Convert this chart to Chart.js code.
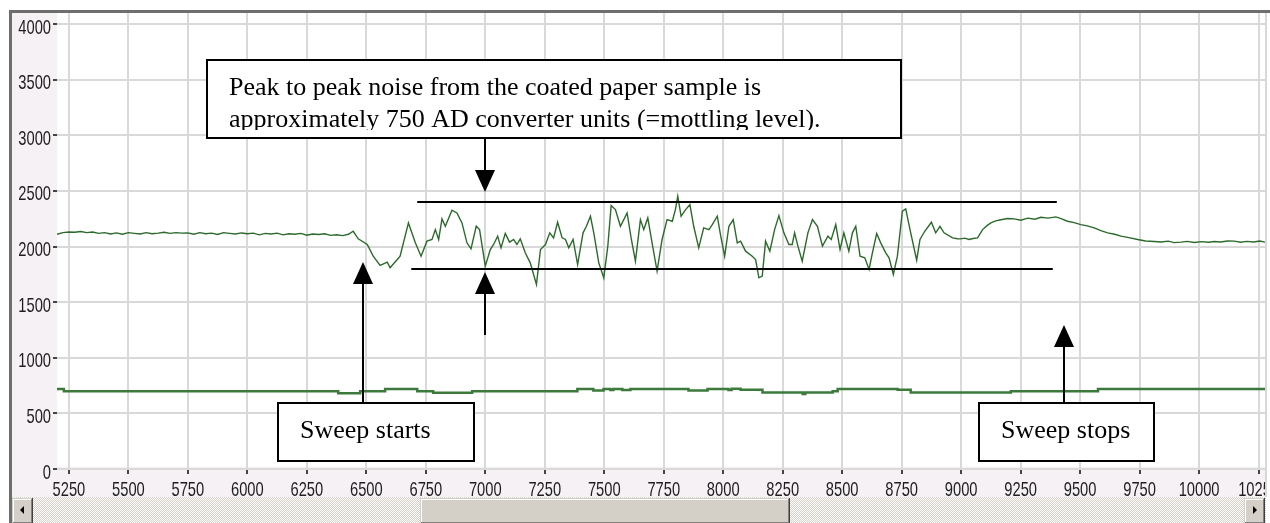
<!DOCTYPE html>
<html lang="en">
<head>
<meta charset="UTF-8">
<title>Mottling sweep</title>
<script src="https://cdn.jsdelivr.net/npm/chart.js"></script>
<style>
  html, body { margin: 0; padding: 0; background: #fff; }
  #wrap { width: 1270px; height: 523px; }
</style>
</head>
<body>
<div id="wrap"><canvas id="chart" width="1270" height="523"></canvas></div>
<script>
// axis ranges and tick labels
const xRange = [5200, 10277];
const yRange = [0, 4099];
const xTicks = [5250, 5500, 5750, 6000, 6250, 6500, 6750, 7000, 7250, 7500, 7750, 8000, 8250, 8500, 8750,
  9000, 9250, 9500, 9750, 10000, 10250];
const yTicks = [0, 500, 1000, 1500, 2000, 2500, 3000, 3500, 4000];

// upper trace (sensor signal)
const upperX = [5200, 5225, 5250, 5275, 5300, 5325, 5350, 5375, 5400, 5425, 5450, 5475, 5500, 5525, 5550, 5575,
  5600, 5625, 5650, 5675, 5700, 5725, 5750, 5775, 5800, 5825, 5850, 5875, 5900, 5925, 5950, 5975,
  6000, 6025, 6050, 6075, 6100, 6125, 6150, 6175, 6200, 6225, 6250, 6275, 6300, 6325, 6350, 6375,
  6400, 6425, 6445, 6466, 6504, 6529, 6558, 6588, 6600, 6630, 6642, 6677, 6706, 6730, 6755, 6776,
  6790, 6804, 6818, 6832, 6860, 6881, 6902, 6923, 6940, 6962, 6976, 7000, 7021, 7035, 7052, 7066,
  7084, 7102, 7119, 7133, 7147, 7168, 7189, 7215, 7232, 7253, 7271, 7287, 7304, 7323, 7337, 7351,
  7369, 7388, 7411, 7425, 7442, 7456, 7477, 7498, 7515, 7529, 7547, 7568, 7596, 7614, 7631, 7652,
  7666, 7683, 7701, 7722, 7743, 7764, 7786, 7799, 7809, 7823, 7842, 7860, 7876, 7897, 7918, 7940,
  7954, 7975, 7989, 8006, 8024, 8042, 8059, 8073, 8094, 8122, 8136, 8150, 8164, 8178, 8196, 8216,
  8234, 8255, 8276, 8290, 8300, 8314, 8332, 8356, 8375, 8396, 8417, 8440, 8454, 8473, 8491, 8507,
  8528, 8543, 8557, 8575, 8595, 8613, 8627, 8645, 8662, 8683, 8697, 8715, 8732, 8753, 8767, 8788,
  8813, 8827, 8847, 8875, 8893, 8911, 8928, 8964, 8985, 8998, 9015, 9033, 9050, 9069, 9090, 9110,
  9125, 9145, 9167, 9195, 9223, 9251, 9280, 9310, 9335, 9365, 9398, 9420, 9447, 9475, 9503, 9530,
  9559, 9590, 9616, 9645, 9672, 9705, 9742, 9775, 9812, 9840, 9870, 9895, 9924, 9950, 9980, 10010,
  10040, 10064, 10090, 10120, 10148, 10175, 10200, 10230, 10255, 10277];
const upperY = [2110, 2125, 2130, 2128, 2135, 2125, 2130, 2118, 2125, 2112, 2122, 2110, 2125, 2118, 2112, 2125,
  2115, 2120, 2128, 2118, 2125, 2120, 2122, 2110, 2125, 2115, 2120, 2108, 2125, 2118, 2112, 2122,
  2115, 2120, 2105, 2118, 2112, 2120, 2105, 2115, 2110, 2118, 2102, 2112, 2108, 2115, 2100, 2105,
  2098, 2110, 2137, 2069, 2018, 1913, 1830, 1859, 1809, 1883, 1913, 2212, 2033, 1913, 2048, 2063,
  2152, 2063, 2248, 2182, 2326, 2302, 2212, 2033, 1979, 2182, 2152, 1823, 1973, 2018, 2093, 1988,
  2117, 2039, 2063, 2018, 2069, 1943, 1853, 1659, 1973, 2018, 2123, 2078, 2218, 2078, 2063, 1988,
  2063, 1838, 2123, 2182, 2272, 2123, 1853, 1719, 2003, 2368, 2332, 2182, 2302, 2063, 1868, 2242,
  2152, 2257, 2033, 1779, 2063, 2242, 2227, 2332, 2452, 2272, 2332, 2377, 2182, 1988, 2167, 2152,
  2197, 2272, 2100, 1913, 2182, 2242, 2033, 2048, 1958, 1913, 1883, 1719, 1734, 2048, 1958, 2152,
  2278, 2123, 2018, 2018, 2123, 2003, 1868, 2123, 2242, 2182, 2003, 2093, 2063, 2197, 1973, 2123,
  1958, 2123, 2182, 1913, 1898, 1794, 1943, 2117, 2033, 1943, 1898, 1749, 1913, 2317, 2338, 2123,
  1877, 2063, 2137, 2218, 2123, 2182, 2123, 2078, 2070, 2069, 2075, 2063, 2072, 2078, 2152, 2190,
  2212, 2230, 2240, 2252, 2248, 2236, 2255, 2245, 2263, 2255, 2266, 2250, 2227, 2215, 2197, 2185,
  2167, 2140, 2123, 2110, 2093, 2080, 2063, 2050, 2045, 2040, 2048, 2035, 2039, 2046, 2036, 2044,
  2038, 2045, 2040, 2050, 2048, 2038, 2046, 2040, 2050, 2039];

// lower trace (reference level, stepped)
const lowerX = [5200, 5229, 6382, 6474, 6579, 6714, 6781, 6945, 7387, 7454, 7497, 7526, 7538, 7576, 7610,
  7854, 7934, 8022, 8035, 8073, 8165, 8334, 8345, 8460, 8481, 8733, 8788, 9209, 9575, 10277];
const lowerY = [720, 700, 682, 700, 720, 700, 685, 700, 720, 705, 720, 710, 720, 710, 720,
  705, 720, 710, 722, 712, 688, 675, 688, 700, 720, 712, 688, 700, 720, 720];

// annotations, in data units
const levelLines = [
  { from: 6714, to: 9402, value: 2400 },
  { from: 6689, to: 9385, value: 1800 }
];
const arrows = [
  { x: 7000, tail: 2975, tip: 2490 },
  { x: 7000, tail: 1204, tip: 1771 },
  { x: 6487, tail: 593, tip: 1861 },
  { x: 9432, tail: 593, tip: 1294 }
];
const notes = [
  { x1: 5831, x2: 8746, y1: 3676, y2: 2975, clipBottom: 8,
    lines: ['Peak to peak noise from the coated paper sample is', 'approximately 750 AD converter units (=mottling level).'] },
  { x1: 6129, x2: 6954, y1: 593, y2: 72, clipBottom: 2, lines: ['Sweep starts'] },
  { x1: 9074, x2: 9810, y1: 593, y2: 72, clipBottom: 2, lines: ['Sweep stops'] }
];

function toPoints(xs, ys) {
  return xs.map((v, i) => ({ x: v, y: ys[i] }));
}

// window frame, grey label bands and the scrollbar
const framePlugin = {
  id: 'frame',
  beforeDraw(chart) {
    const ctx = chart.ctx;
    const a = chart.chartArea;
    ctx.save();
    ctx.fillStyle = '#fff';
    ctx.fillRect(0, 0, chart.width, chart.height);
    ctx.fillStyle = '#f5f1f5';
    ctx.fillRect(12, 13, a.left - 12, 484);
    ctx.fillRect(a.left, a.bottom - 2, a.right - a.left + 1, 499 - a.bottom);
    ctx.fillStyle = '#6e6e6e';
    ctx.fillRect(9, 10, 3, 513);
    ctx.fillRect(9, 10, 1261, 3);
    ctx.fillStyle = '#d8d8d8';
    ctx.fillRect(a.right, 13, 2, 484);
    ctx.restore();
  },
  afterDraw(chart) {
    const ctx = chart.ctx;
    ctx.save();
    // dithered track
    const pat = document.createElement('canvas');
    pat.width = 2; pat.height = 2;
    const pc = pat.getContext('2d');
    pc.fillStyle = '#d4d0c8'; pc.fillRect(0, 0, 2, 2);
    pc.fillStyle = '#fff'; pc.fillRect(0, 0, 1, 1); pc.fillRect(1, 1, 1, 1);
    ctx.fillStyle = ctx.createPattern(pat, 'repeat');
    ctx.fillRect(12, 497, 1254, 26);

    function bevel(x, y, w, h) {
      ctx.fillStyle = '#d4d0c8'; ctx.fillRect(x, y, w, h);
      ctx.fillStyle = '#fff'; ctx.fillRect(x + 1, y + 1, w - 2, 1); ctx.fillRect(x + 1, y + 1, 1, h - 2);
      ctx.fillStyle = '#808080'; ctx.fillRect(x + 1, y + h - 2, w - 2, 1); ctx.fillRect(x + w - 2, y + 1, 1, h - 2);
      ctx.fillStyle = '#404040'; ctx.fillRect(x, y + h - 1, w, 1); ctx.fillRect(x + w - 1, y, 1, h);
    }
    bevel(12, 498, 21, 26);
    bevel(1244, 498, 21, 26);
    bevel(420, 498, 370, 26);
    ctx.fillStyle = '#000';
    ctx.beginPath(); ctx.moveTo(20, 510); ctx.lineTo(24, 506); ctx.lineTo(24, 514); ctx.closePath(); ctx.fill();
    ctx.beginPath(); ctx.moveTo(1257, 510); ctx.lineTo(1253, 506); ctx.lineTo(1253, 514); ctx.closePath(); ctx.fill();
    ctx.restore();
  }
};

// condensed tick labels (squeezed sans, like the original plotting control)
const labelPlugin = {
  id: 'labels',
  afterDraw(chart) {
    const { ctx, scales: { x, y } } = chart;
    ctx.save();
    ctx.beginPath();
    ctx.rect(0, 0, 1265, 497);
    ctx.clip();
    ctx.fillStyle = '#1e1e1e';
    ctx.font = "21px 'Liberation Sans', Arial, sans-serif";
    ctx.textBaseline = 'alphabetic';
    ctx.textAlign = 'center';
    xTicks.forEach(v => {
      ctx.save();
      ctx.translate(x.getPixelForValue(v), 496);
      ctx.scale(0.7, 1);
      ctx.fillText(String(v), 0, 0);
      ctx.restore();
    });
    ctx.textAlign = 'right';
    yTicks.forEach(v => {
      ctx.save();
      ctx.translate(51, y.getPixelForValue(v) + 9.5);
      ctx.scale(0.7, 1);
      ctx.fillText(String(v), 0, 0);
      ctx.restore();
    });
    ctx.restore();
  }
};

// black guide lines, arrows and text boxes
const notesPlugin = {
  id: 'notes',
  afterDatasetsDraw(chart) {
    const { ctx, scales: { x, y } } = chart;
    ctx.save();
    ctx.strokeStyle = '#000';
    ctx.fillStyle = '#000';
    ctx.lineWidth = 2;
    levelLines.forEach(l => {
      const py = Math.round(y.getPixelForValue(l.value));
      ctx.beginPath();
      ctx.moveTo(x.getPixelForValue(l.from), py);
      ctx.lineTo(x.getPixelForValue(l.to), py);
      ctx.stroke();
    });
    arrows.forEach(a => {
      const px = Math.round(x.getPixelForValue(a.x));
      const tail = y.getPixelForValue(a.tail);
      const tip = y.getPixelForValue(a.tip);
      const dir = tip < tail ? 1 : -1;
      const base = tip + dir * 22;
      ctx.beginPath();
      ctx.moveTo(px, tail);
      ctx.lineTo(px, base);
      ctx.stroke();
      ctx.beginPath();
      ctx.moveTo(px, tip);
      ctx.lineTo(px - 10, base);
      ctx.lineTo(px + 10, base);
      ctx.closePath();
      ctx.fill();
    });
    notes.forEach(n => {
      const left = Math.round(x.getPixelForValue(n.x1));
      const right = Math.round(x.getPixelForValue(n.x2));
      const top = Math.round(y.getPixelForValue(n.y1));
      const bottom = Math.round(y.getPixelForValue(n.y2));
      ctx.fillStyle = '#fff';
      ctx.fillRect(left, top, right - left, bottom - top);
      ctx.save();
      ctx.beginPath();
      ctx.rect(left, top, right - left, bottom - top - n.clipBottom);
      ctx.clip();
      ctx.fillStyle = '#000';
      ctx.font = "26px 'Liberation Serif', 'Times New Roman', serif";
      ctx.textBaseline = 'alphabetic';
      n.lines.forEach((t, i) => ctx.fillText(t, left + 22, top + 35 + i * 32));
      ctx.restore();
      ctx.strokeStyle = '#000';
      ctx.lineWidth = 2;
      ctx.strokeRect(left, top, right - left, bottom - top);
    });
    ctx.restore();
  }
};

new Chart(document.getElementById('chart'), {
  type: 'line',
  data: {
    datasets: [
      {
        data: toPoints(upperX, upperY),
        borderColor: '#2b6a2b',
        borderWidth: 1.4,
        pointRadius: 0,
        tension: 0
      },
      {
        data: toPoints(lowerX, lowerY),
        borderColor: '#3b7a3b',
        borderWidth: 2.5,
        pointRadius: 0,
        stepped: true
      }
    ]
  },
  options: {
    responsive: false,
    animation: false,
    events: [],
    layout: { padding: { left: 10, top: 13, right: 5, bottom: 26 } },
    plugins: { legend: { display: false }, tooltip: { enabled: false } },
    scales: {
      x: {
        type: 'linear',
        min: xRange[0],
        max: xRange[1],
        afterBuildTicks: s => { s.ticks = xTicks.map(v => ({ value: v })); },
        afterFit: s => { s.height = 28; s.paddingLeft = 0; s.paddingRight = 0; },
        border: { display: false },
        grid: { color: '#d9d9d9', lineWidth: 2, tickColor: '#444', tickLength: 5, tickWidth: 2 },
        ticks: { display: false }
      },
      y: {
        min: yRange[0],
        max: yRange[1],
        afterBuildTicks: s => { s.ticks = yTicks.map(v => ({ value: v })); },
        afterFit: s => { s.width = 47; s.paddingTop = 0; s.paddingBottom = 0; },
        border: { display: false },
        grid: { color: '#d9d9d9', lineWidth: 2, tickColor: '#444', tickLength: 4, tickWidth: 2 },
        ticks: { display: false }
      }
    }
  },
  plugins: [framePlugin, labelPlugin, notesPlugin]
});
</script>
</body>
</html>
